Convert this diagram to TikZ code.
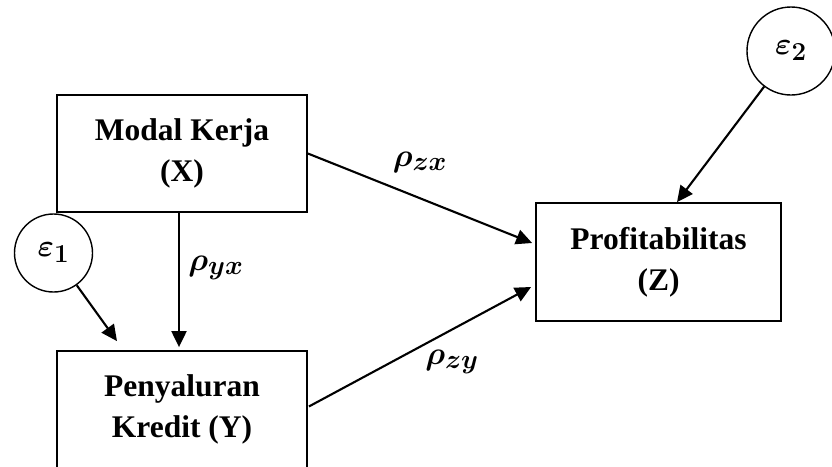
\documentclass[tikz,border=0pt]{standalone}
\usepackage{fontspec}
\setmainfont{Liberation Serif}
\usepackage{graphicx}
\usepackage{bm}
\usetikzlibrary{arrows.meta,calc}
\newcommand{\bigmath}[2]{\scalebox{#1}{\fontsize{24.88}{30}\selectfont$#2$}}
\begin{document}
\begin{tikzpicture}[x=1pt,y=-1pt,
  box/.style={draw, line width=1.8pt, minimum width=250pt, minimum height=117pt, align=center,
    font=\fontsize{31.5}{41}\selectfont\bfseries, inner sep=0pt},
  err/.style={draw, circle, line width=1.4pt, minimum size=78pt, inner sep=0pt},
  arr/.style={line width=2.1pt, -{Triangle[length=16pt,width=15pt]}},
  lbl/.style={inner sep=0pt}]
\useasboundingbox (0,0) rectangle (832,466);
\node[box] (X) at (182,153.5) {Modal Kerja\\(X)};
\node[box] (Y) at (182,409.5) {Penyaluran\\Kredit (Y)};
\node[box, minimum width=245pt, minimum height=118pt] (Z) at (658.5,262) {Profitabilitas\\(Z)};
\node[err] (E1) at (53.5,253) {\bigmath{1.25}{\bm{\varepsilon_1}}};
\node[err, minimum size=88pt] (E2) at (791,51) {\bigmath{1.25}{\bm{\varepsilon_2}}};
\node[lbl] (Lzx) at (420,162) {\bigmath{1.3}{\bm{\rho_{zx}}}};
\node[lbl] (Lyx) at (216,268) {\bigmath{1.3}{\bm{\rho_{yx}}}};
\node[lbl] (Lzy) at (452,362) {\bigmath{1.3}{\bm{\rho_{zy}}}};
\draw[arr] (X.east) -- ($(Z.west)+(-3,-19)$);
\draw[arr] ($(Y.east)+(1,-3)$) -- ($(Z.west)+(-4,25)$);
\draw[arr, shorten >=3pt] ([xshift=-3pt]X.south) -- ([xshift=-3pt]Y.north);
\draw[arr] (E1) -- ($(Y.north)+(-65,-9)$);
\draw[arr] (E2) -- ($(Z.north)+(18.5,0)$);
\end{tikzpicture}
\end{document}
